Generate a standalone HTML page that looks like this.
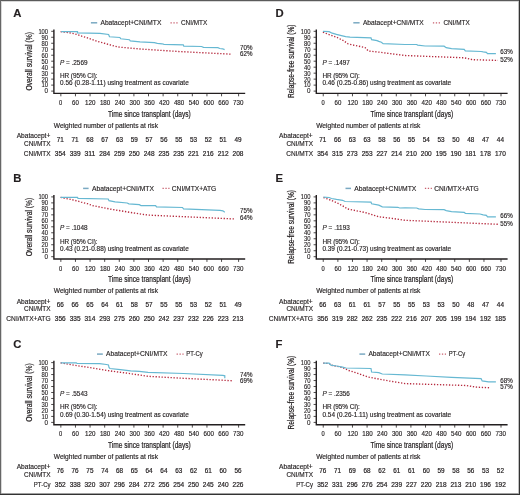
<!DOCTYPE html>
<html><head><meta charset="utf-8"><style>
html,body{margin:0;padding:0;background:#fff;width:520px;height:495px;overflow:hidden}
svg{display:block;will-change:transform}
text{font-family:"Liberation Sans", sans-serif;fill:#231f20;stroke:#231f20;stroke-width:0.15px}
</style></head><body>
<svg width="520" height="495" viewBox="0 0 520 495">
<rect x="0" y="0" width="520" height="495" fill="#fff"/>
<g transform="translate(0,0)">
<text x="13.20" y="16.65" font-size="11.3" font-weight="bold" fill="#000" stroke-width="0.35" stroke="#000">A</text>
<line x1="90.9" y1="22.8" x2="97.2" y2="22.8" stroke="#7aa9c2" stroke-width="1.5"/>
<text x="100.50" y="25.18" font-size="7.2" textLength="60.80" lengthAdjust="spacingAndGlyphs">Abatacept+CNI/MTX</text>
<line x1="170.5" y1="22.8" x2="177.6" y2="22.8" stroke="#b62a3e" stroke-width="1.3" stroke-dasharray="1.3,1.6" opacity="0.75"/>
<text x="181.00" y="25.18" font-size="7.2" textLength="26.30" lengthAdjust="spacingAndGlyphs">CNI/MTX</text>
<text transform="translate(31.94,61.3) rotate(-90)" x="0" y="0" font-size="8.2" text-anchor="middle" textLength="58.5" lengthAdjust="spacingAndGlyphs" style="stroke-width:0.22px">Overall survival (%)</text>
<line x1="51.2" y1="31.30" x2="53.9" y2="31.30" stroke="#231f20" stroke-width="0.8"/>
<text x="48.10" y="33.66" font-size="6.6" text-anchor="end" textLength="9.70" lengthAdjust="spacingAndGlyphs" style="stroke-width:0.12px">100</text>
<line x1="51.2" y1="37.28" x2="53.9" y2="37.28" stroke="#231f20" stroke-width="0.8"/>
<text x="48.10" y="39.64" font-size="6.6" text-anchor="end" textLength="6.60" lengthAdjust="spacingAndGlyphs" style="stroke-width:0.12px">90</text>
<line x1="51.2" y1="43.26" x2="53.9" y2="43.26" stroke="#231f20" stroke-width="0.8"/>
<text x="48.10" y="45.62" font-size="6.6" text-anchor="end" textLength="6.60" lengthAdjust="spacingAndGlyphs" style="stroke-width:0.12px">80</text>
<line x1="51.2" y1="49.24" x2="53.9" y2="49.24" stroke="#231f20" stroke-width="0.8"/>
<text x="48.10" y="51.60" font-size="6.6" text-anchor="end" textLength="6.60" lengthAdjust="spacingAndGlyphs" style="stroke-width:0.12px">70</text>
<line x1="51.2" y1="55.22" x2="53.9" y2="55.22" stroke="#231f20" stroke-width="0.8"/>
<text x="48.10" y="57.58" font-size="6.6" text-anchor="end" textLength="6.60" lengthAdjust="spacingAndGlyphs" style="stroke-width:0.12px">60</text>
<line x1="51.2" y1="61.20" x2="53.9" y2="61.20" stroke="#231f20" stroke-width="0.8"/>
<text x="48.10" y="63.56" font-size="6.6" text-anchor="end" textLength="6.60" lengthAdjust="spacingAndGlyphs" style="stroke-width:0.12px">50</text>
<line x1="51.2" y1="67.18" x2="53.9" y2="67.18" stroke="#231f20" stroke-width="0.8"/>
<text x="48.10" y="69.54" font-size="6.6" text-anchor="end" textLength="6.60" lengthAdjust="spacingAndGlyphs" style="stroke-width:0.12px">40</text>
<line x1="51.2" y1="73.16" x2="53.9" y2="73.16" stroke="#231f20" stroke-width="0.8"/>
<text x="48.10" y="75.52" font-size="6.6" text-anchor="end" textLength="6.60" lengthAdjust="spacingAndGlyphs" style="stroke-width:0.12px">30</text>
<line x1="51.2" y1="79.14" x2="53.9" y2="79.14" stroke="#231f20" stroke-width="0.8"/>
<text x="48.10" y="81.50" font-size="6.6" text-anchor="end" textLength="6.60" lengthAdjust="spacingAndGlyphs" style="stroke-width:0.12px">20</text>
<line x1="51.2" y1="85.12" x2="53.9" y2="85.12" stroke="#231f20" stroke-width="0.8"/>
<text x="48.10" y="87.48" font-size="6.6" text-anchor="end" textLength="6.60" lengthAdjust="spacingAndGlyphs" style="stroke-width:0.12px">10</text>
<line x1="51.2" y1="91.10" x2="53.9" y2="91.10" stroke="#231f20" stroke-width="0.8"/>
<text x="48.10" y="93.46" font-size="6.6" text-anchor="end" textLength="3.50" lengthAdjust="spacingAndGlyphs" style="stroke-width:0.12px">0</text>
<path d="M53.9,29.4 V93.4 H245.2" fill="none" stroke="#231f20" stroke-width="1.4"/>
<line x1="60.85" y1="93.4" x2="60.85" y2="96.30000000000001" stroke="#231f20" stroke-width="0.8"/>
<text x="60.70" y="104.96" font-size="6.3" text-anchor="middle" textLength="3.20" lengthAdjust="spacingAndGlyphs">0</text>
<line x1="75.46" y1="93.4" x2="75.46" y2="96.30000000000001" stroke="#231f20" stroke-width="0.8"/>
<text x="75.50" y="104.96" font-size="6.3" text-anchor="middle" textLength="6.80" lengthAdjust="spacingAndGlyphs">60</text>
<line x1="90.07" y1="93.4" x2="90.07" y2="96.30000000000001" stroke="#231f20" stroke-width="0.8"/>
<text x="90.30" y="104.96" font-size="6.3" text-anchor="middle" textLength="10.40" lengthAdjust="spacingAndGlyphs">120</text>
<line x1="104.68" y1="93.4" x2="104.68" y2="96.30000000000001" stroke="#231f20" stroke-width="0.8"/>
<text x="105.10" y="104.96" font-size="6.3" text-anchor="middle" textLength="10.40" lengthAdjust="spacingAndGlyphs">180</text>
<line x1="119.29" y1="93.4" x2="119.29" y2="96.30000000000001" stroke="#231f20" stroke-width="0.8"/>
<text x="119.90" y="104.96" font-size="6.3" text-anchor="middle" textLength="10.40" lengthAdjust="spacingAndGlyphs">240</text>
<line x1="133.90" y1="93.4" x2="133.90" y2="96.30000000000001" stroke="#231f20" stroke-width="0.8"/>
<text x="134.70" y="104.96" font-size="6.3" text-anchor="middle" textLength="10.40" lengthAdjust="spacingAndGlyphs">300</text>
<line x1="148.51" y1="93.4" x2="148.51" y2="96.30000000000001" stroke="#231f20" stroke-width="0.8"/>
<text x="149.50" y="104.96" font-size="6.3" text-anchor="middle" textLength="10.40" lengthAdjust="spacingAndGlyphs">360</text>
<line x1="163.12" y1="93.4" x2="163.12" y2="96.30000000000001" stroke="#231f20" stroke-width="0.8"/>
<text x="164.30" y="104.96" font-size="6.3" text-anchor="middle" textLength="10.40" lengthAdjust="spacingAndGlyphs">420</text>
<line x1="177.73" y1="93.4" x2="177.73" y2="96.30000000000001" stroke="#231f20" stroke-width="0.8"/>
<text x="179.10" y="104.96" font-size="6.3" text-anchor="middle" textLength="10.40" lengthAdjust="spacingAndGlyphs">480</text>
<line x1="192.34" y1="93.4" x2="192.34" y2="96.30000000000001" stroke="#231f20" stroke-width="0.8"/>
<text x="193.90" y="104.96" font-size="6.3" text-anchor="middle" textLength="10.40" lengthAdjust="spacingAndGlyphs">540</text>
<line x1="206.95" y1="93.4" x2="206.95" y2="96.30000000000001" stroke="#231f20" stroke-width="0.8"/>
<text x="208.70" y="104.96" font-size="6.3" text-anchor="middle" textLength="10.40" lengthAdjust="spacingAndGlyphs">600</text>
<line x1="221.56" y1="93.4" x2="221.56" y2="96.30000000000001" stroke="#231f20" stroke-width="0.8"/>
<text x="223.50" y="104.96" font-size="6.3" text-anchor="middle" textLength="10.40" lengthAdjust="spacingAndGlyphs">660</text>
<line x1="238.60" y1="93.4" x2="238.60" y2="96.30000000000001" stroke="#231f20" stroke-width="0.8"/>
<text x="238.30" y="104.96" font-size="6.3" text-anchor="middle" textLength="10.40" lengthAdjust="spacingAndGlyphs">730</text>
<text x="149.40" y="116.79" font-size="8.9" text-anchor="middle" textLength="82.80" lengthAdjust="spacingAndGlyphs" style="stroke-width:0.22px">Time since transplant (days)</text>
<text x="60" y="64.72" font-size="6.4" textLength="27.5" lengthAdjust="spacing"><tspan font-style="italic">P</tspan> = .2569</text>
<text x="60.00" y="78.09" font-size="6.4" textLength="37.50" lengthAdjust="spacing">HR (95% CI):</text>
<text x="60.00" y="85.49" font-size="6.4" textLength="128.70" lengthAdjust="spacing">0.56 (0.28-1.11) using treatment as covariate</text>
<text x="240.00" y="50.16" font-size="6.6" textLength="12.40" lengthAdjust="spacingAndGlyphs">70%</text>
<text x="240.00" y="56.46" font-size="6.6" textLength="12.40" lengthAdjust="spacingAndGlyphs">62%</text>
<text x="53.80" y="127.66" font-size="6.6" textLength="104.20" lengthAdjust="spacingAndGlyphs">Weighted number of patients at risk</text>
<text x="50.30" y="137.96" font-size="6.6" text-anchor="end" textLength="33.60" lengthAdjust="spacingAndGlyphs">Abatacept+</text>
<text x="50.60" y="145.56" font-size="6.6" text-anchor="end" textLength="26.60" lengthAdjust="spacingAndGlyphs">CNI/MTX</text>
<text x="50.60" y="155.66" font-size="6.6" text-anchor="end" textLength="26.80" lengthAdjust="spacingAndGlyphs">CNI/MTX</text>
<text x="60.30" y="141.86" font-size="6.6" text-anchor="middle" textLength="7.10" lengthAdjust="spacingAndGlyphs" style="stroke-width:0.2px">71</text>
<text x="75.10" y="141.86" font-size="6.6" text-anchor="middle" textLength="7.10" lengthAdjust="spacingAndGlyphs" style="stroke-width:0.2px">71</text>
<text x="89.90" y="141.86" font-size="6.6" text-anchor="middle" textLength="7.10" lengthAdjust="spacingAndGlyphs" style="stroke-width:0.2px">68</text>
<text x="104.70" y="141.86" font-size="6.6" text-anchor="middle" textLength="7.10" lengthAdjust="spacingAndGlyphs" style="stroke-width:0.2px">67</text>
<text x="119.50" y="141.86" font-size="6.6" text-anchor="middle" textLength="7.10" lengthAdjust="spacingAndGlyphs" style="stroke-width:0.2px">63</text>
<text x="134.30" y="141.86" font-size="6.6" text-anchor="middle" textLength="7.10" lengthAdjust="spacingAndGlyphs" style="stroke-width:0.2px">59</text>
<text x="149.10" y="141.86" font-size="6.6" text-anchor="middle" textLength="7.10" lengthAdjust="spacingAndGlyphs" style="stroke-width:0.2px">57</text>
<text x="163.90" y="141.86" font-size="6.6" text-anchor="middle" textLength="7.10" lengthAdjust="spacingAndGlyphs" style="stroke-width:0.2px">56</text>
<text x="178.70" y="141.86" font-size="6.6" text-anchor="middle" textLength="7.10" lengthAdjust="spacingAndGlyphs" style="stroke-width:0.2px">55</text>
<text x="193.50" y="141.86" font-size="6.6" text-anchor="middle" textLength="7.10" lengthAdjust="spacingAndGlyphs" style="stroke-width:0.2px">53</text>
<text x="208.30" y="141.86" font-size="6.6" text-anchor="middle" textLength="7.10" lengthAdjust="spacingAndGlyphs" style="stroke-width:0.2px">52</text>
<text x="223.10" y="141.86" font-size="6.6" text-anchor="middle" textLength="7.10" lengthAdjust="spacingAndGlyphs" style="stroke-width:0.2px">51</text>
<text x="238.00" y="141.86" font-size="6.6" text-anchor="middle" textLength="7.10" lengthAdjust="spacingAndGlyphs" style="stroke-width:0.2px">49</text>
<text x="60.30" y="155.66" font-size="6.6" text-anchor="middle" textLength="10.90" lengthAdjust="spacingAndGlyphs" style="stroke-width:0.2px">354</text>
<text x="75.10" y="155.66" font-size="6.6" text-anchor="middle" textLength="10.90" lengthAdjust="spacingAndGlyphs" style="stroke-width:0.2px">339</text>
<text x="89.90" y="155.66" font-size="6.6" text-anchor="middle" textLength="10.90" lengthAdjust="spacingAndGlyphs" style="stroke-width:0.2px">311</text>
<text x="104.70" y="155.66" font-size="6.6" text-anchor="middle" textLength="10.90" lengthAdjust="spacingAndGlyphs" style="stroke-width:0.2px">284</text>
<text x="119.50" y="155.66" font-size="6.6" text-anchor="middle" textLength="10.90" lengthAdjust="spacingAndGlyphs" style="stroke-width:0.2px">259</text>
<text x="134.30" y="155.66" font-size="6.6" text-anchor="middle" textLength="10.90" lengthAdjust="spacingAndGlyphs" style="stroke-width:0.2px">250</text>
<text x="149.10" y="155.66" font-size="6.6" text-anchor="middle" textLength="10.90" lengthAdjust="spacingAndGlyphs" style="stroke-width:0.2px">248</text>
<text x="163.90" y="155.66" font-size="6.6" text-anchor="middle" textLength="10.90" lengthAdjust="spacingAndGlyphs" style="stroke-width:0.2px">235</text>
<text x="178.70" y="155.66" font-size="6.6" text-anchor="middle" textLength="10.90" lengthAdjust="spacingAndGlyphs" style="stroke-width:0.2px">235</text>
<text x="193.50" y="155.66" font-size="6.6" text-anchor="middle" textLength="10.90" lengthAdjust="spacingAndGlyphs" style="stroke-width:0.2px">221</text>
<text x="208.30" y="155.66" font-size="6.6" text-anchor="middle" textLength="10.90" lengthAdjust="spacingAndGlyphs" style="stroke-width:0.2px">216</text>
<text x="223.10" y="155.66" font-size="6.6" text-anchor="middle" textLength="10.90" lengthAdjust="spacingAndGlyphs" style="stroke-width:0.2px">212</text>
<text x="238.00" y="155.66" font-size="6.6" text-anchor="middle" textLength="10.90" lengthAdjust="spacingAndGlyphs" style="stroke-width:0.2px">208</text>
</g>
<polyline points="60.6,31.6 64.6,32.2 68.3,32.5 71.4,33.2 74.5,33.8 77.5,34.7 81.8,36.2 86.2,37.5 97.0,41.2 107.0,44.0 118.0,47.0 140.0,49.0 178.5,51.5 231.3,54.2" fill="none" stroke="#b62a3e" stroke-width="1.35" stroke-dasharray="1.3,1.7"/>
<polyline points="61.1,31.6 77.5,31.6 77.5,32.8 100.0,33.3 108.6,34.5 109.5,36.8 119.9,37.5 120.7,38.8 129.4,39.7 130.3,40.9 140.0,41.9 154.4,42.7 157.3,43.3 162.1,43.8 164.0,44.4 183.3,44.8 183.8,46.2 201.5,46.5 203.5,47.3 217.9,47.7 219.8,48.5 222.7,48.8 224.6,49.6" fill="none" stroke="#66b8d2" stroke-width="1.2"/>
<g transform="translate(0,165.6)">
<text x="13.20" y="16.65" font-size="11.3" font-weight="bold" fill="#000" stroke-width="0.35" stroke="#000">B</text>
<line x1="83.1" y1="22.8" x2="88.6" y2="22.8" stroke="#7aa9c2" stroke-width="1.5"/>
<text x="91.90" y="25.18" font-size="7.2" textLength="62.00" lengthAdjust="spacingAndGlyphs">Abatacept+CNI/MTX</text>
<line x1="162.5" y1="22.8" x2="169.5" y2="22.8" stroke="#b62a3e" stroke-width="1.3" stroke-dasharray="1.3,1.6" opacity="0.75"/>
<text x="171.80" y="25.18" font-size="7.2" textLength="44.50" lengthAdjust="spacingAndGlyphs">CNI/MTX+ATG</text>
<text transform="translate(31.94,61.3) rotate(-90)" x="0" y="0" font-size="8.2" text-anchor="middle" textLength="58.5" lengthAdjust="spacingAndGlyphs" style="stroke-width:0.22px">Overall survival (%)</text>
<line x1="51.2" y1="31.30" x2="53.9" y2="31.30" stroke="#231f20" stroke-width="0.8"/>
<text x="48.10" y="33.66" font-size="6.6" text-anchor="end" textLength="9.70" lengthAdjust="spacingAndGlyphs" style="stroke-width:0.12px">100</text>
<line x1="51.2" y1="37.28" x2="53.9" y2="37.28" stroke="#231f20" stroke-width="0.8"/>
<text x="48.10" y="39.64" font-size="6.6" text-anchor="end" textLength="6.60" lengthAdjust="spacingAndGlyphs" style="stroke-width:0.12px">90</text>
<line x1="51.2" y1="43.26" x2="53.9" y2="43.26" stroke="#231f20" stroke-width="0.8"/>
<text x="48.10" y="45.62" font-size="6.6" text-anchor="end" textLength="6.60" lengthAdjust="spacingAndGlyphs" style="stroke-width:0.12px">80</text>
<line x1="51.2" y1="49.24" x2="53.9" y2="49.24" stroke="#231f20" stroke-width="0.8"/>
<text x="48.10" y="51.60" font-size="6.6" text-anchor="end" textLength="6.60" lengthAdjust="spacingAndGlyphs" style="stroke-width:0.12px">70</text>
<line x1="51.2" y1="55.22" x2="53.9" y2="55.22" stroke="#231f20" stroke-width="0.8"/>
<text x="48.10" y="57.58" font-size="6.6" text-anchor="end" textLength="6.60" lengthAdjust="spacingAndGlyphs" style="stroke-width:0.12px">60</text>
<line x1="51.2" y1="61.20" x2="53.9" y2="61.20" stroke="#231f20" stroke-width="0.8"/>
<text x="48.10" y="63.56" font-size="6.6" text-anchor="end" textLength="6.60" lengthAdjust="spacingAndGlyphs" style="stroke-width:0.12px">50</text>
<line x1="51.2" y1="67.18" x2="53.9" y2="67.18" stroke="#231f20" stroke-width="0.8"/>
<text x="48.10" y="69.54" font-size="6.6" text-anchor="end" textLength="6.60" lengthAdjust="spacingAndGlyphs" style="stroke-width:0.12px">40</text>
<line x1="51.2" y1="73.16" x2="53.9" y2="73.16" stroke="#231f20" stroke-width="0.8"/>
<text x="48.10" y="75.52" font-size="6.6" text-anchor="end" textLength="6.60" lengthAdjust="spacingAndGlyphs" style="stroke-width:0.12px">30</text>
<line x1="51.2" y1="79.14" x2="53.9" y2="79.14" stroke="#231f20" stroke-width="0.8"/>
<text x="48.10" y="81.50" font-size="6.6" text-anchor="end" textLength="6.60" lengthAdjust="spacingAndGlyphs" style="stroke-width:0.12px">20</text>
<line x1="51.2" y1="85.12" x2="53.9" y2="85.12" stroke="#231f20" stroke-width="0.8"/>
<text x="48.10" y="87.48" font-size="6.6" text-anchor="end" textLength="6.60" lengthAdjust="spacingAndGlyphs" style="stroke-width:0.12px">10</text>
<line x1="51.2" y1="91.10" x2="53.9" y2="91.10" stroke="#231f20" stroke-width="0.8"/>
<text x="48.10" y="93.46" font-size="6.6" text-anchor="end" textLength="3.50" lengthAdjust="spacingAndGlyphs" style="stroke-width:0.12px">0</text>
<path d="M53.9,29.4 V93.4 H245.2" fill="none" stroke="#231f20" stroke-width="1.4"/>
<line x1="60.85" y1="93.4" x2="60.85" y2="96.30000000000001" stroke="#231f20" stroke-width="0.8"/>
<text x="60.70" y="104.96" font-size="6.3" text-anchor="middle" textLength="3.20" lengthAdjust="spacingAndGlyphs">0</text>
<line x1="75.46" y1="93.4" x2="75.46" y2="96.30000000000001" stroke="#231f20" stroke-width="0.8"/>
<text x="75.50" y="104.96" font-size="6.3" text-anchor="middle" textLength="6.80" lengthAdjust="spacingAndGlyphs">60</text>
<line x1="90.07" y1="93.4" x2="90.07" y2="96.30000000000001" stroke="#231f20" stroke-width="0.8"/>
<text x="90.30" y="104.96" font-size="6.3" text-anchor="middle" textLength="10.40" lengthAdjust="spacingAndGlyphs">120</text>
<line x1="104.68" y1="93.4" x2="104.68" y2="96.30000000000001" stroke="#231f20" stroke-width="0.8"/>
<text x="105.10" y="104.96" font-size="6.3" text-anchor="middle" textLength="10.40" lengthAdjust="spacingAndGlyphs">180</text>
<line x1="119.29" y1="93.4" x2="119.29" y2="96.30000000000001" stroke="#231f20" stroke-width="0.8"/>
<text x="119.90" y="104.96" font-size="6.3" text-anchor="middle" textLength="10.40" lengthAdjust="spacingAndGlyphs">240</text>
<line x1="133.90" y1="93.4" x2="133.90" y2="96.30000000000001" stroke="#231f20" stroke-width="0.8"/>
<text x="134.70" y="104.96" font-size="6.3" text-anchor="middle" textLength="10.40" lengthAdjust="spacingAndGlyphs">300</text>
<line x1="148.51" y1="93.4" x2="148.51" y2="96.30000000000001" stroke="#231f20" stroke-width="0.8"/>
<text x="149.50" y="104.96" font-size="6.3" text-anchor="middle" textLength="10.40" lengthAdjust="spacingAndGlyphs">360</text>
<line x1="163.12" y1="93.4" x2="163.12" y2="96.30000000000001" stroke="#231f20" stroke-width="0.8"/>
<text x="164.30" y="104.96" font-size="6.3" text-anchor="middle" textLength="10.40" lengthAdjust="spacingAndGlyphs">420</text>
<line x1="177.73" y1="93.4" x2="177.73" y2="96.30000000000001" stroke="#231f20" stroke-width="0.8"/>
<text x="179.10" y="104.96" font-size="6.3" text-anchor="middle" textLength="10.40" lengthAdjust="spacingAndGlyphs">480</text>
<line x1="192.34" y1="93.4" x2="192.34" y2="96.30000000000001" stroke="#231f20" stroke-width="0.8"/>
<text x="193.90" y="104.96" font-size="6.3" text-anchor="middle" textLength="10.40" lengthAdjust="spacingAndGlyphs">540</text>
<line x1="206.95" y1="93.4" x2="206.95" y2="96.30000000000001" stroke="#231f20" stroke-width="0.8"/>
<text x="208.70" y="104.96" font-size="6.3" text-anchor="middle" textLength="10.40" lengthAdjust="spacingAndGlyphs">600</text>
<line x1="221.56" y1="93.4" x2="221.56" y2="96.30000000000001" stroke="#231f20" stroke-width="0.8"/>
<text x="223.50" y="104.96" font-size="6.3" text-anchor="middle" textLength="10.40" lengthAdjust="spacingAndGlyphs">660</text>
<line x1="238.60" y1="93.4" x2="238.60" y2="96.30000000000001" stroke="#231f20" stroke-width="0.8"/>
<text x="238.30" y="104.96" font-size="6.3" text-anchor="middle" textLength="10.40" lengthAdjust="spacingAndGlyphs">730</text>
<text x="149.40" y="116.79" font-size="8.9" text-anchor="middle" textLength="82.80" lengthAdjust="spacingAndGlyphs" style="stroke-width:0.22px">Time since transplant (days)</text>
<text x="60" y="64.72" font-size="6.4" textLength="27.5" lengthAdjust="spacing"><tspan font-style="italic">P</tspan> = .1048</text>
<text x="60.00" y="78.09" font-size="6.4" textLength="37.50" lengthAdjust="spacing">HR (95% CI):</text>
<text x="60.00" y="85.49" font-size="6.4" textLength="128.70" lengthAdjust="spacing">0.43 (0.21-0.88) using treatment as covariate</text>
<text x="240.00" y="47.86" font-size="6.6" textLength="12.40" lengthAdjust="spacingAndGlyphs">75%</text>
<text x="240.00" y="54.26" font-size="6.6" textLength="12.40" lengthAdjust="spacingAndGlyphs">64%</text>
<text x="53.80" y="127.66" font-size="6.6" textLength="104.20" lengthAdjust="spacingAndGlyphs">Weighted number of patients at risk</text>
<text x="50.30" y="137.96" font-size="6.6" text-anchor="end" textLength="33.60" lengthAdjust="spacingAndGlyphs">Abatacept+</text>
<text x="50.60" y="145.56" font-size="6.6" text-anchor="end" textLength="26.60" lengthAdjust="spacingAndGlyphs">CNI/MTX</text>
<text x="50.60" y="155.66" font-size="6.6" text-anchor="end" textLength="44.30" lengthAdjust="spacingAndGlyphs">CNI/MTX+ATG</text>
<text x="60.30" y="141.86" font-size="6.6" text-anchor="middle" textLength="7.10" lengthAdjust="spacingAndGlyphs" style="stroke-width:0.2px">66</text>
<text x="75.10" y="141.86" font-size="6.6" text-anchor="middle" textLength="7.10" lengthAdjust="spacingAndGlyphs" style="stroke-width:0.2px">66</text>
<text x="89.90" y="141.86" font-size="6.6" text-anchor="middle" textLength="7.10" lengthAdjust="spacingAndGlyphs" style="stroke-width:0.2px">65</text>
<text x="104.70" y="141.86" font-size="6.6" text-anchor="middle" textLength="7.10" lengthAdjust="spacingAndGlyphs" style="stroke-width:0.2px">64</text>
<text x="119.50" y="141.86" font-size="6.6" text-anchor="middle" textLength="7.10" lengthAdjust="spacingAndGlyphs" style="stroke-width:0.2px">61</text>
<text x="134.30" y="141.86" font-size="6.6" text-anchor="middle" textLength="7.10" lengthAdjust="spacingAndGlyphs" style="stroke-width:0.2px">58</text>
<text x="149.10" y="141.86" font-size="6.6" text-anchor="middle" textLength="7.10" lengthAdjust="spacingAndGlyphs" style="stroke-width:0.2px">57</text>
<text x="163.90" y="141.86" font-size="6.6" text-anchor="middle" textLength="7.10" lengthAdjust="spacingAndGlyphs" style="stroke-width:0.2px">55</text>
<text x="178.70" y="141.86" font-size="6.6" text-anchor="middle" textLength="7.10" lengthAdjust="spacingAndGlyphs" style="stroke-width:0.2px">55</text>
<text x="193.50" y="141.86" font-size="6.6" text-anchor="middle" textLength="7.10" lengthAdjust="spacingAndGlyphs" style="stroke-width:0.2px">53</text>
<text x="208.30" y="141.86" font-size="6.6" text-anchor="middle" textLength="7.10" lengthAdjust="spacingAndGlyphs" style="stroke-width:0.2px">52</text>
<text x="223.10" y="141.86" font-size="6.6" text-anchor="middle" textLength="7.10" lengthAdjust="spacingAndGlyphs" style="stroke-width:0.2px">51</text>
<text x="238.00" y="141.86" font-size="6.6" text-anchor="middle" textLength="7.10" lengthAdjust="spacingAndGlyphs" style="stroke-width:0.2px">49</text>
<text x="60.30" y="155.66" font-size="6.6" text-anchor="middle" textLength="10.90" lengthAdjust="spacingAndGlyphs" style="stroke-width:0.2px">356</text>
<text x="75.10" y="155.66" font-size="6.6" text-anchor="middle" textLength="10.90" lengthAdjust="spacingAndGlyphs" style="stroke-width:0.2px">335</text>
<text x="89.90" y="155.66" font-size="6.6" text-anchor="middle" textLength="10.90" lengthAdjust="spacingAndGlyphs" style="stroke-width:0.2px">314</text>
<text x="104.70" y="155.66" font-size="6.6" text-anchor="middle" textLength="10.90" lengthAdjust="spacingAndGlyphs" style="stroke-width:0.2px">293</text>
<text x="119.50" y="155.66" font-size="6.6" text-anchor="middle" textLength="10.90" lengthAdjust="spacingAndGlyphs" style="stroke-width:0.2px">275</text>
<text x="134.30" y="155.66" font-size="6.6" text-anchor="middle" textLength="10.90" lengthAdjust="spacingAndGlyphs" style="stroke-width:0.2px">260</text>
<text x="149.10" y="155.66" font-size="6.6" text-anchor="middle" textLength="10.90" lengthAdjust="spacingAndGlyphs" style="stroke-width:0.2px">250</text>
<text x="163.90" y="155.66" font-size="6.6" text-anchor="middle" textLength="10.90" lengthAdjust="spacingAndGlyphs" style="stroke-width:0.2px">242</text>
<text x="178.70" y="155.66" font-size="6.6" text-anchor="middle" textLength="10.90" lengthAdjust="spacingAndGlyphs" style="stroke-width:0.2px">237</text>
<text x="193.50" y="155.66" font-size="6.6" text-anchor="middle" textLength="10.90" lengthAdjust="spacingAndGlyphs" style="stroke-width:0.2px">232</text>
<text x="208.30" y="155.66" font-size="6.6" text-anchor="middle" textLength="10.90" lengthAdjust="spacingAndGlyphs" style="stroke-width:0.2px">226</text>
<text x="223.10" y="155.66" font-size="6.6" text-anchor="middle" textLength="10.90" lengthAdjust="spacingAndGlyphs" style="stroke-width:0.2px">223</text>
<text x="238.00" y="155.66" font-size="6.6" text-anchor="middle" textLength="10.90" lengthAdjust="spacingAndGlyphs" style="stroke-width:0.2px">213</text>
</g>
<polyline points="60.6,197.4 64.3,198.2 67.7,198.8 70.8,199.4 74.5,200.3 78.2,201.2 81.2,202.2 84.9,203.1 87.4,203.7 92.6,205.6 109.9,209.0 130.7,212.5 148.0,215.1 235.4,219.0" fill="none" stroke="#b62a3e" stroke-width="1.35" stroke-dasharray="1.3,1.7"/>
<polyline points="60.6,197.4 77.5,197.4 78.0,198.3 108.2,199.0 109.0,200.7 115.1,201.8 127.2,203.0 128.9,203.8 139.3,204.7 141.0,205.6 155.6,205.6 156.5,206.9 182.5,207.5 183.5,208.8 220.0,210.4 222.9,210.8 224.8,212.3" fill="none" stroke="#66b8d2" stroke-width="1.2"/>
<g transform="translate(0,331.3)">
<text x="13.20" y="16.65" font-size="11.3" font-weight="bold" fill="#000" stroke-width="0.35" stroke="#000">C</text>
<line x1="97.0" y1="22.8" x2="102.8" y2="22.8" stroke="#7aa9c2" stroke-width="1.5"/>
<text x="106.00" y="25.18" font-size="7.2" textLength="61.50" lengthAdjust="spacingAndGlyphs">Abatacept+CNI/MTX</text>
<line x1="176.6" y1="22.8" x2="183.6" y2="22.8" stroke="#b62a3e" stroke-width="1.3" stroke-dasharray="1.3,1.6" opacity="0.75"/>
<text x="186.30" y="25.18" font-size="7.2" textLength="16.40" lengthAdjust="spacingAndGlyphs">PT-Cy</text>
<text transform="translate(31.94,61.3) rotate(-90)" x="0" y="0" font-size="8.2" text-anchor="middle" textLength="58.5" lengthAdjust="spacingAndGlyphs" style="stroke-width:0.22px">Overall survival (%)</text>
<line x1="51.2" y1="31.30" x2="53.9" y2="31.30" stroke="#231f20" stroke-width="0.8"/>
<text x="48.10" y="33.66" font-size="6.6" text-anchor="end" textLength="9.70" lengthAdjust="spacingAndGlyphs" style="stroke-width:0.12px">100</text>
<line x1="51.2" y1="37.28" x2="53.9" y2="37.28" stroke="#231f20" stroke-width="0.8"/>
<text x="48.10" y="39.64" font-size="6.6" text-anchor="end" textLength="6.60" lengthAdjust="spacingAndGlyphs" style="stroke-width:0.12px">90</text>
<line x1="51.2" y1="43.26" x2="53.9" y2="43.26" stroke="#231f20" stroke-width="0.8"/>
<text x="48.10" y="45.62" font-size="6.6" text-anchor="end" textLength="6.60" lengthAdjust="spacingAndGlyphs" style="stroke-width:0.12px">80</text>
<line x1="51.2" y1="49.24" x2="53.9" y2="49.24" stroke="#231f20" stroke-width="0.8"/>
<text x="48.10" y="51.60" font-size="6.6" text-anchor="end" textLength="6.60" lengthAdjust="spacingAndGlyphs" style="stroke-width:0.12px">70</text>
<line x1="51.2" y1="55.22" x2="53.9" y2="55.22" stroke="#231f20" stroke-width="0.8"/>
<text x="48.10" y="57.58" font-size="6.6" text-anchor="end" textLength="6.60" lengthAdjust="spacingAndGlyphs" style="stroke-width:0.12px">60</text>
<line x1="51.2" y1="61.20" x2="53.9" y2="61.20" stroke="#231f20" stroke-width="0.8"/>
<text x="48.10" y="63.56" font-size="6.6" text-anchor="end" textLength="6.60" lengthAdjust="spacingAndGlyphs" style="stroke-width:0.12px">50</text>
<line x1="51.2" y1="67.18" x2="53.9" y2="67.18" stroke="#231f20" stroke-width="0.8"/>
<text x="48.10" y="69.54" font-size="6.6" text-anchor="end" textLength="6.60" lengthAdjust="spacingAndGlyphs" style="stroke-width:0.12px">40</text>
<line x1="51.2" y1="73.16" x2="53.9" y2="73.16" stroke="#231f20" stroke-width="0.8"/>
<text x="48.10" y="75.52" font-size="6.6" text-anchor="end" textLength="6.60" lengthAdjust="spacingAndGlyphs" style="stroke-width:0.12px">30</text>
<line x1="51.2" y1="79.14" x2="53.9" y2="79.14" stroke="#231f20" stroke-width="0.8"/>
<text x="48.10" y="81.50" font-size="6.6" text-anchor="end" textLength="6.60" lengthAdjust="spacingAndGlyphs" style="stroke-width:0.12px">20</text>
<line x1="51.2" y1="85.12" x2="53.9" y2="85.12" stroke="#231f20" stroke-width="0.8"/>
<text x="48.10" y="87.48" font-size="6.6" text-anchor="end" textLength="6.60" lengthAdjust="spacingAndGlyphs" style="stroke-width:0.12px">10</text>
<line x1="51.2" y1="91.10" x2="53.9" y2="91.10" stroke="#231f20" stroke-width="0.8"/>
<text x="48.10" y="93.46" font-size="6.6" text-anchor="end" textLength="3.50" lengthAdjust="spacingAndGlyphs" style="stroke-width:0.12px">0</text>
<path d="M53.9,29.4 V93.4 H245.2" fill="none" stroke="#231f20" stroke-width="1.4"/>
<line x1="60.85" y1="93.4" x2="60.85" y2="96.30000000000001" stroke="#231f20" stroke-width="0.8"/>
<text x="60.70" y="104.96" font-size="6.3" text-anchor="middle" textLength="3.20" lengthAdjust="spacingAndGlyphs">0</text>
<line x1="75.46" y1="93.4" x2="75.46" y2="96.30000000000001" stroke="#231f20" stroke-width="0.8"/>
<text x="75.50" y="104.96" font-size="6.3" text-anchor="middle" textLength="6.80" lengthAdjust="spacingAndGlyphs">60</text>
<line x1="90.07" y1="93.4" x2="90.07" y2="96.30000000000001" stroke="#231f20" stroke-width="0.8"/>
<text x="90.30" y="104.96" font-size="6.3" text-anchor="middle" textLength="10.40" lengthAdjust="spacingAndGlyphs">120</text>
<line x1="104.68" y1="93.4" x2="104.68" y2="96.30000000000001" stroke="#231f20" stroke-width="0.8"/>
<text x="105.10" y="104.96" font-size="6.3" text-anchor="middle" textLength="10.40" lengthAdjust="spacingAndGlyphs">180</text>
<line x1="119.29" y1="93.4" x2="119.29" y2="96.30000000000001" stroke="#231f20" stroke-width="0.8"/>
<text x="119.90" y="104.96" font-size="6.3" text-anchor="middle" textLength="10.40" lengthAdjust="spacingAndGlyphs">240</text>
<line x1="133.90" y1="93.4" x2="133.90" y2="96.30000000000001" stroke="#231f20" stroke-width="0.8"/>
<text x="134.70" y="104.96" font-size="6.3" text-anchor="middle" textLength="10.40" lengthAdjust="spacingAndGlyphs">300</text>
<line x1="148.51" y1="93.4" x2="148.51" y2="96.30000000000001" stroke="#231f20" stroke-width="0.8"/>
<text x="149.50" y="104.96" font-size="6.3" text-anchor="middle" textLength="10.40" lengthAdjust="spacingAndGlyphs">360</text>
<line x1="163.12" y1="93.4" x2="163.12" y2="96.30000000000001" stroke="#231f20" stroke-width="0.8"/>
<text x="164.30" y="104.96" font-size="6.3" text-anchor="middle" textLength="10.40" lengthAdjust="spacingAndGlyphs">420</text>
<line x1="177.73" y1="93.4" x2="177.73" y2="96.30000000000001" stroke="#231f20" stroke-width="0.8"/>
<text x="179.10" y="104.96" font-size="6.3" text-anchor="middle" textLength="10.40" lengthAdjust="spacingAndGlyphs">480</text>
<line x1="192.34" y1="93.4" x2="192.34" y2="96.30000000000001" stroke="#231f20" stroke-width="0.8"/>
<text x="193.90" y="104.96" font-size="6.3" text-anchor="middle" textLength="10.40" lengthAdjust="spacingAndGlyphs">540</text>
<line x1="206.95" y1="93.4" x2="206.95" y2="96.30000000000001" stroke="#231f20" stroke-width="0.8"/>
<text x="208.70" y="104.96" font-size="6.3" text-anchor="middle" textLength="10.40" lengthAdjust="spacingAndGlyphs">600</text>
<line x1="221.56" y1="93.4" x2="221.56" y2="96.30000000000001" stroke="#231f20" stroke-width="0.8"/>
<text x="223.50" y="104.96" font-size="6.3" text-anchor="middle" textLength="10.40" lengthAdjust="spacingAndGlyphs">660</text>
<line x1="238.60" y1="93.4" x2="238.60" y2="96.30000000000001" stroke="#231f20" stroke-width="0.8"/>
<text x="238.30" y="104.96" font-size="6.3" text-anchor="middle" textLength="10.40" lengthAdjust="spacingAndGlyphs">730</text>
<text x="149.40" y="116.79" font-size="8.9" text-anchor="middle" textLength="82.80" lengthAdjust="spacingAndGlyphs" style="stroke-width:0.22px">Time since transplant (days)</text>
<text x="60" y="64.72" font-size="6.4" textLength="27.5" lengthAdjust="spacing"><tspan font-style="italic">P</tspan> = .5543</text>
<text x="60.00" y="78.09" font-size="6.4" textLength="37.50" lengthAdjust="spacing">HR (95% CI):</text>
<text x="60.00" y="85.49" font-size="6.4" textLength="128.70" lengthAdjust="spacing">0.69 (0.30-1.54) using treatment as covariate</text>
<text x="240.00" y="45.56" font-size="6.6" textLength="12.40" lengthAdjust="spacingAndGlyphs">74%</text>
<text x="240.00" y="51.46" font-size="6.6" textLength="12.40" lengthAdjust="spacingAndGlyphs">69%</text>
<text x="53.80" y="127.66" font-size="6.6" textLength="104.20" lengthAdjust="spacingAndGlyphs">Weighted number of patients at risk</text>
<text x="50.30" y="137.96" font-size="6.6" text-anchor="end" textLength="33.60" lengthAdjust="spacingAndGlyphs">Abatacept+</text>
<text x="50.60" y="145.56" font-size="6.6" text-anchor="end" textLength="26.60" lengthAdjust="spacingAndGlyphs">CNI/MTX</text>
<text x="50.60" y="155.66" font-size="6.6" text-anchor="end" textLength="16.80" lengthAdjust="spacingAndGlyphs">PT-Cy</text>
<text x="60.30" y="141.86" font-size="6.6" text-anchor="middle" textLength="7.10" lengthAdjust="spacingAndGlyphs" style="stroke-width:0.2px">76</text>
<text x="75.10" y="141.86" font-size="6.6" text-anchor="middle" textLength="7.10" lengthAdjust="spacingAndGlyphs" style="stroke-width:0.2px">76</text>
<text x="89.90" y="141.86" font-size="6.6" text-anchor="middle" textLength="7.10" lengthAdjust="spacingAndGlyphs" style="stroke-width:0.2px">75</text>
<text x="104.70" y="141.86" font-size="6.6" text-anchor="middle" textLength="7.10" lengthAdjust="spacingAndGlyphs" style="stroke-width:0.2px">74</text>
<text x="119.50" y="141.86" font-size="6.6" text-anchor="middle" textLength="7.10" lengthAdjust="spacingAndGlyphs" style="stroke-width:0.2px">68</text>
<text x="134.30" y="141.86" font-size="6.6" text-anchor="middle" textLength="7.10" lengthAdjust="spacingAndGlyphs" style="stroke-width:0.2px">65</text>
<text x="149.10" y="141.86" font-size="6.6" text-anchor="middle" textLength="7.10" lengthAdjust="spacingAndGlyphs" style="stroke-width:0.2px">64</text>
<text x="163.90" y="141.86" font-size="6.6" text-anchor="middle" textLength="7.10" lengthAdjust="spacingAndGlyphs" style="stroke-width:0.2px">64</text>
<text x="178.70" y="141.86" font-size="6.6" text-anchor="middle" textLength="7.10" lengthAdjust="spacingAndGlyphs" style="stroke-width:0.2px">63</text>
<text x="193.50" y="141.86" font-size="6.6" text-anchor="middle" textLength="7.10" lengthAdjust="spacingAndGlyphs" style="stroke-width:0.2px">62</text>
<text x="208.30" y="141.86" font-size="6.6" text-anchor="middle" textLength="7.10" lengthAdjust="spacingAndGlyphs" style="stroke-width:0.2px">61</text>
<text x="223.10" y="141.86" font-size="6.6" text-anchor="middle" textLength="7.10" lengthAdjust="spacingAndGlyphs" style="stroke-width:0.2px">60</text>
<text x="238.00" y="141.86" font-size="6.6" text-anchor="middle" textLength="7.10" lengthAdjust="spacingAndGlyphs" style="stroke-width:0.2px">56</text>
<text x="60.30" y="155.66" font-size="6.6" text-anchor="middle" textLength="10.90" lengthAdjust="spacingAndGlyphs" style="stroke-width:0.2px">352</text>
<text x="75.10" y="155.66" font-size="6.6" text-anchor="middle" textLength="10.90" lengthAdjust="spacingAndGlyphs" style="stroke-width:0.2px">338</text>
<text x="89.90" y="155.66" font-size="6.6" text-anchor="middle" textLength="10.90" lengthAdjust="spacingAndGlyphs" style="stroke-width:0.2px">320</text>
<text x="104.70" y="155.66" font-size="6.6" text-anchor="middle" textLength="10.90" lengthAdjust="spacingAndGlyphs" style="stroke-width:0.2px">307</text>
<text x="119.50" y="155.66" font-size="6.6" text-anchor="middle" textLength="10.90" lengthAdjust="spacingAndGlyphs" style="stroke-width:0.2px">296</text>
<text x="134.30" y="155.66" font-size="6.6" text-anchor="middle" textLength="10.90" lengthAdjust="spacingAndGlyphs" style="stroke-width:0.2px">284</text>
<text x="149.10" y="155.66" font-size="6.6" text-anchor="middle" textLength="10.90" lengthAdjust="spacingAndGlyphs" style="stroke-width:0.2px">272</text>
<text x="163.90" y="155.66" font-size="6.6" text-anchor="middle" textLength="10.90" lengthAdjust="spacingAndGlyphs" style="stroke-width:0.2px">256</text>
<text x="178.70" y="155.66" font-size="6.6" text-anchor="middle" textLength="10.90" lengthAdjust="spacingAndGlyphs" style="stroke-width:0.2px">254</text>
<text x="193.50" y="155.66" font-size="6.6" text-anchor="middle" textLength="10.90" lengthAdjust="spacingAndGlyphs" style="stroke-width:0.2px">250</text>
<text x="208.30" y="155.66" font-size="6.6" text-anchor="middle" textLength="10.90" lengthAdjust="spacingAndGlyphs" style="stroke-width:0.2px">245</text>
<text x="223.10" y="155.66" font-size="6.6" text-anchor="middle" textLength="10.90" lengthAdjust="spacingAndGlyphs" style="stroke-width:0.2px">240</text>
<text x="238.00" y="155.66" font-size="6.6" text-anchor="middle" textLength="10.90" lengthAdjust="spacingAndGlyphs" style="stroke-width:0.2px">226</text>
</g>
<polyline points="60.6,362.8 75.3,365.4 92.6,368.0 109.9,370.9 127.2,373.2 148.0,376.3 183.5,378.3 221.9,380.2 232.5,380.8" fill="none" stroke="#b62a3e" stroke-width="1.35" stroke-dasharray="1.3,1.7"/>
<polyline points="60.6,362.8 76.2,362.8 77.0,363.3 99.5,363.7 106.4,364.5 108.5,365.0 109.0,367.5 109.9,368.5 120.3,369.7 130.7,370.9 139.3,371.4 148.0,372.3 183.5,373.5 222.9,375.4 224.8,375.8 224.8,378.3" fill="none" stroke="#66b8d2" stroke-width="1.2"/>
<g transform="translate(262.4,0)">
<text x="13.20" y="16.65" font-size="11.3" font-weight="bold" fill="#000" stroke-width="0.35" stroke="#000">D</text>
<line x1="90.9" y1="22.8" x2="97.2" y2="22.8" stroke="#7aa9c2" stroke-width="1.5"/>
<text x="100.50" y="25.18" font-size="7.2" textLength="60.80" lengthAdjust="spacingAndGlyphs">Abatacept+CNI/MTX</text>
<line x1="170.5" y1="22.8" x2="177.6" y2="22.8" stroke="#b62a3e" stroke-width="1.3" stroke-dasharray="1.3,1.6" opacity="0.75"/>
<text x="181.00" y="25.18" font-size="7.2" textLength="26.30" lengthAdjust="spacingAndGlyphs">CNI/MTX</text>
<text transform="translate(31.94,61.3) rotate(-90)" x="0" y="0" font-size="8.2" text-anchor="middle" textLength="73.6" lengthAdjust="spacingAndGlyphs" style="stroke-width:0.22px">Relapse-free survival (%)</text>
<line x1="51.2" y1="31.30" x2="53.9" y2="31.30" stroke="#231f20" stroke-width="0.8"/>
<text x="48.10" y="33.66" font-size="6.6" text-anchor="end" textLength="9.70" lengthAdjust="spacingAndGlyphs" style="stroke-width:0.12px">100</text>
<line x1="51.2" y1="37.28" x2="53.9" y2="37.28" stroke="#231f20" stroke-width="0.8"/>
<text x="48.10" y="39.64" font-size="6.6" text-anchor="end" textLength="6.60" lengthAdjust="spacingAndGlyphs" style="stroke-width:0.12px">90</text>
<line x1="51.2" y1="43.26" x2="53.9" y2="43.26" stroke="#231f20" stroke-width="0.8"/>
<text x="48.10" y="45.62" font-size="6.6" text-anchor="end" textLength="6.60" lengthAdjust="spacingAndGlyphs" style="stroke-width:0.12px">80</text>
<line x1="51.2" y1="49.24" x2="53.9" y2="49.24" stroke="#231f20" stroke-width="0.8"/>
<text x="48.10" y="51.60" font-size="6.6" text-anchor="end" textLength="6.60" lengthAdjust="spacingAndGlyphs" style="stroke-width:0.12px">70</text>
<line x1="51.2" y1="55.22" x2="53.9" y2="55.22" stroke="#231f20" stroke-width="0.8"/>
<text x="48.10" y="57.58" font-size="6.6" text-anchor="end" textLength="6.60" lengthAdjust="spacingAndGlyphs" style="stroke-width:0.12px">60</text>
<line x1="51.2" y1="61.20" x2="53.9" y2="61.20" stroke="#231f20" stroke-width="0.8"/>
<text x="48.10" y="63.56" font-size="6.6" text-anchor="end" textLength="6.60" lengthAdjust="spacingAndGlyphs" style="stroke-width:0.12px">50</text>
<line x1="51.2" y1="67.18" x2="53.9" y2="67.18" stroke="#231f20" stroke-width="0.8"/>
<text x="48.10" y="69.54" font-size="6.6" text-anchor="end" textLength="6.60" lengthAdjust="spacingAndGlyphs" style="stroke-width:0.12px">40</text>
<line x1="51.2" y1="73.16" x2="53.9" y2="73.16" stroke="#231f20" stroke-width="0.8"/>
<text x="48.10" y="75.52" font-size="6.6" text-anchor="end" textLength="6.60" lengthAdjust="spacingAndGlyphs" style="stroke-width:0.12px">30</text>
<line x1="51.2" y1="79.14" x2="53.9" y2="79.14" stroke="#231f20" stroke-width="0.8"/>
<text x="48.10" y="81.50" font-size="6.6" text-anchor="end" textLength="6.60" lengthAdjust="spacingAndGlyphs" style="stroke-width:0.12px">20</text>
<line x1="51.2" y1="85.12" x2="53.9" y2="85.12" stroke="#231f20" stroke-width="0.8"/>
<text x="48.10" y="87.48" font-size="6.6" text-anchor="end" textLength="6.60" lengthAdjust="spacingAndGlyphs" style="stroke-width:0.12px">10</text>
<line x1="51.2" y1="91.10" x2="53.9" y2="91.10" stroke="#231f20" stroke-width="0.8"/>
<text x="48.10" y="93.46" font-size="6.6" text-anchor="end" textLength="3.50" lengthAdjust="spacingAndGlyphs" style="stroke-width:0.12px">0</text>
<path d="M53.9,29.4 V93.4 H245.2" fill="none" stroke="#231f20" stroke-width="1.4"/>
<line x1="60.85" y1="93.4" x2="60.85" y2="96.30000000000001" stroke="#231f20" stroke-width="0.8"/>
<text x="60.70" y="104.96" font-size="6.3" text-anchor="middle" textLength="3.20" lengthAdjust="spacingAndGlyphs">0</text>
<line x1="75.46" y1="93.4" x2="75.46" y2="96.30000000000001" stroke="#231f20" stroke-width="0.8"/>
<text x="75.50" y="104.96" font-size="6.3" text-anchor="middle" textLength="6.80" lengthAdjust="spacingAndGlyphs">60</text>
<line x1="90.07" y1="93.4" x2="90.07" y2="96.30000000000001" stroke="#231f20" stroke-width="0.8"/>
<text x="90.30" y="104.96" font-size="6.3" text-anchor="middle" textLength="10.40" lengthAdjust="spacingAndGlyphs">120</text>
<line x1="104.68" y1="93.4" x2="104.68" y2="96.30000000000001" stroke="#231f20" stroke-width="0.8"/>
<text x="105.10" y="104.96" font-size="6.3" text-anchor="middle" textLength="10.40" lengthAdjust="spacingAndGlyphs">180</text>
<line x1="119.29" y1="93.4" x2="119.29" y2="96.30000000000001" stroke="#231f20" stroke-width="0.8"/>
<text x="119.90" y="104.96" font-size="6.3" text-anchor="middle" textLength="10.40" lengthAdjust="spacingAndGlyphs">240</text>
<line x1="133.90" y1="93.4" x2="133.90" y2="96.30000000000001" stroke="#231f20" stroke-width="0.8"/>
<text x="134.70" y="104.96" font-size="6.3" text-anchor="middle" textLength="10.40" lengthAdjust="spacingAndGlyphs">300</text>
<line x1="148.51" y1="93.4" x2="148.51" y2="96.30000000000001" stroke="#231f20" stroke-width="0.8"/>
<text x="149.50" y="104.96" font-size="6.3" text-anchor="middle" textLength="10.40" lengthAdjust="spacingAndGlyphs">360</text>
<line x1="163.12" y1="93.4" x2="163.12" y2="96.30000000000001" stroke="#231f20" stroke-width="0.8"/>
<text x="164.30" y="104.96" font-size="6.3" text-anchor="middle" textLength="10.40" lengthAdjust="spacingAndGlyphs">420</text>
<line x1="177.73" y1="93.4" x2="177.73" y2="96.30000000000001" stroke="#231f20" stroke-width="0.8"/>
<text x="179.10" y="104.96" font-size="6.3" text-anchor="middle" textLength="10.40" lengthAdjust="spacingAndGlyphs">480</text>
<line x1="192.34" y1="93.4" x2="192.34" y2="96.30000000000001" stroke="#231f20" stroke-width="0.8"/>
<text x="193.90" y="104.96" font-size="6.3" text-anchor="middle" textLength="10.40" lengthAdjust="spacingAndGlyphs">540</text>
<line x1="206.95" y1="93.4" x2="206.95" y2="96.30000000000001" stroke="#231f20" stroke-width="0.8"/>
<text x="208.70" y="104.96" font-size="6.3" text-anchor="middle" textLength="10.40" lengthAdjust="spacingAndGlyphs">600</text>
<line x1="221.56" y1="93.4" x2="221.56" y2="96.30000000000001" stroke="#231f20" stroke-width="0.8"/>
<text x="223.50" y="104.96" font-size="6.3" text-anchor="middle" textLength="10.40" lengthAdjust="spacingAndGlyphs">660</text>
<line x1="238.60" y1="93.4" x2="238.60" y2="96.30000000000001" stroke="#231f20" stroke-width="0.8"/>
<text x="238.30" y="104.96" font-size="6.3" text-anchor="middle" textLength="10.40" lengthAdjust="spacingAndGlyphs">730</text>
<text x="149.40" y="116.79" font-size="8.9" text-anchor="middle" textLength="82.80" lengthAdjust="spacingAndGlyphs" style="stroke-width:0.22px">Time since transplant (days)</text>
<text x="60" y="64.72" font-size="6.4" textLength="27.5" lengthAdjust="spacing"><tspan font-style="italic">P</tspan> = .1497</text>
<text x="60.00" y="78.09" font-size="6.4" textLength="37.50" lengthAdjust="spacing">HR (95% CI):</text>
<text x="60.00" y="85.49" font-size="6.4" textLength="128.70" lengthAdjust="spacing">0.46 (0.25-0.86) using treatment as covariate</text>
<text x="237.90" y="54.26" font-size="6.6" textLength="12.40" lengthAdjust="spacingAndGlyphs">63%</text>
<text x="237.90" y="61.66" font-size="6.6" textLength="12.40" lengthAdjust="spacingAndGlyphs">52%</text>
<text x="53.80" y="127.66" font-size="6.6" textLength="104.20" lengthAdjust="spacingAndGlyphs">Weighted number of patients at risk</text>
<text x="50.30" y="137.96" font-size="6.6" text-anchor="end" textLength="33.60" lengthAdjust="spacingAndGlyphs">Abatacept+</text>
<text x="50.60" y="145.56" font-size="6.6" text-anchor="end" textLength="26.60" lengthAdjust="spacingAndGlyphs">CNI/MTX</text>
<text x="50.60" y="155.66" font-size="6.6" text-anchor="end" textLength="26.80" lengthAdjust="spacingAndGlyphs">CNI/MTX</text>
<text x="60.30" y="141.86" font-size="6.6" text-anchor="middle" textLength="7.10" lengthAdjust="spacingAndGlyphs" style="stroke-width:0.2px">71</text>
<text x="75.10" y="141.86" font-size="6.6" text-anchor="middle" textLength="7.10" lengthAdjust="spacingAndGlyphs" style="stroke-width:0.2px">66</text>
<text x="89.90" y="141.86" font-size="6.6" text-anchor="middle" textLength="7.10" lengthAdjust="spacingAndGlyphs" style="stroke-width:0.2px">63</text>
<text x="104.70" y="141.86" font-size="6.6" text-anchor="middle" textLength="7.10" lengthAdjust="spacingAndGlyphs" style="stroke-width:0.2px">63</text>
<text x="119.50" y="141.86" font-size="6.6" text-anchor="middle" textLength="7.10" lengthAdjust="spacingAndGlyphs" style="stroke-width:0.2px">58</text>
<text x="134.30" y="141.86" font-size="6.6" text-anchor="middle" textLength="7.10" lengthAdjust="spacingAndGlyphs" style="stroke-width:0.2px">56</text>
<text x="149.10" y="141.86" font-size="6.6" text-anchor="middle" textLength="7.10" lengthAdjust="spacingAndGlyphs" style="stroke-width:0.2px">55</text>
<text x="163.90" y="141.86" font-size="6.6" text-anchor="middle" textLength="7.10" lengthAdjust="spacingAndGlyphs" style="stroke-width:0.2px">54</text>
<text x="178.70" y="141.86" font-size="6.6" text-anchor="middle" textLength="7.10" lengthAdjust="spacingAndGlyphs" style="stroke-width:0.2px">53</text>
<text x="193.50" y="141.86" font-size="6.6" text-anchor="middle" textLength="7.10" lengthAdjust="spacingAndGlyphs" style="stroke-width:0.2px">50</text>
<text x="208.30" y="141.86" font-size="6.6" text-anchor="middle" textLength="7.10" lengthAdjust="spacingAndGlyphs" style="stroke-width:0.2px">48</text>
<text x="223.10" y="141.86" font-size="6.6" text-anchor="middle" textLength="7.10" lengthAdjust="spacingAndGlyphs" style="stroke-width:0.2px">47</text>
<text x="238.00" y="141.86" font-size="6.6" text-anchor="middle" textLength="7.10" lengthAdjust="spacingAndGlyphs" style="stroke-width:0.2px">44</text>
<text x="60.30" y="155.66" font-size="6.6" text-anchor="middle" textLength="10.90" lengthAdjust="spacingAndGlyphs" style="stroke-width:0.2px">354</text>
<text x="75.10" y="155.66" font-size="6.6" text-anchor="middle" textLength="10.90" lengthAdjust="spacingAndGlyphs" style="stroke-width:0.2px">315</text>
<text x="89.90" y="155.66" font-size="6.6" text-anchor="middle" textLength="10.90" lengthAdjust="spacingAndGlyphs" style="stroke-width:0.2px">273</text>
<text x="104.70" y="155.66" font-size="6.6" text-anchor="middle" textLength="10.90" lengthAdjust="spacingAndGlyphs" style="stroke-width:0.2px">253</text>
<text x="119.50" y="155.66" font-size="6.6" text-anchor="middle" textLength="10.90" lengthAdjust="spacingAndGlyphs" style="stroke-width:0.2px">227</text>
<text x="134.30" y="155.66" font-size="6.6" text-anchor="middle" textLength="10.90" lengthAdjust="spacingAndGlyphs" style="stroke-width:0.2px">214</text>
<text x="149.10" y="155.66" font-size="6.6" text-anchor="middle" textLength="10.90" lengthAdjust="spacingAndGlyphs" style="stroke-width:0.2px">210</text>
<text x="163.90" y="155.66" font-size="6.6" text-anchor="middle" textLength="10.90" lengthAdjust="spacingAndGlyphs" style="stroke-width:0.2px">200</text>
<text x="178.70" y="155.66" font-size="6.6" text-anchor="middle" textLength="10.90" lengthAdjust="spacingAndGlyphs" style="stroke-width:0.2px">195</text>
<text x="193.50" y="155.66" font-size="6.6" text-anchor="middle" textLength="10.90" lengthAdjust="spacingAndGlyphs" style="stroke-width:0.2px">190</text>
<text x="208.30" y="155.66" font-size="6.6" text-anchor="middle" textLength="10.90" lengthAdjust="spacingAndGlyphs" style="stroke-width:0.2px">181</text>
<text x="223.10" y="155.66" font-size="6.6" text-anchor="middle" textLength="10.90" lengthAdjust="spacingAndGlyphs" style="stroke-width:0.2px">178</text>
<text x="238.00" y="155.66" font-size="6.6" text-anchor="middle" textLength="10.90" lengthAdjust="spacingAndGlyphs" style="stroke-width:0.2px">170</text>
</g>
<polyline points="322.9,32.2 330.3,35.0 336.5,37.2 343.8,40.8 347.7,43.7 354.6,45.4 365.0,47.5 368.4,51.0 380.6,52.3 389.2,53.5 405.0,55.5 464.2,57.8 472.7,59.7 498.0,60.4" fill="none" stroke="#b62a3e" stroke-width="1.35" stroke-dasharray="1.3,1.7"/>
<polyline points="322.9,31.3 329.1,31.6 332.2,33.2 336.5,34.4 341.4,35.6 345.7,36.6 350.0,37.2 371.0,37.8 371.6,39.7 377.1,40.6 378.8,41.4 381.4,42.3 383.1,43.7 405.0,44.5 416.6,44.5 417.7,45.1 425.1,46.0 444.1,46.2 446.2,47.7 451.5,48.7 464.2,49.4 465.3,50.9 481.1,51.5 483.2,51.9 486.4,52.3 487.5,53.6 495.9,53.6" fill="none" stroke="#66b8d2" stroke-width="1.2"/>
<g transform="translate(262.4,165.6)">
<text x="13.20" y="16.65" font-size="11.3" font-weight="bold" fill="#000" stroke-width="0.35" stroke="#000">E</text>
<line x1="83.1" y1="22.8" x2="88.6" y2="22.8" stroke="#7aa9c2" stroke-width="1.5"/>
<text x="91.90" y="25.18" font-size="7.2" textLength="62.00" lengthAdjust="spacingAndGlyphs">Abatacept+CNI/MTX</text>
<line x1="162.5" y1="22.8" x2="169.5" y2="22.8" stroke="#b62a3e" stroke-width="1.3" stroke-dasharray="1.3,1.6" opacity="0.75"/>
<text x="171.80" y="25.18" font-size="7.2" textLength="44.50" lengthAdjust="spacingAndGlyphs">CNI/MTX+ATG</text>
<text transform="translate(31.94,61.3) rotate(-90)" x="0" y="0" font-size="8.2" text-anchor="middle" textLength="73.6" lengthAdjust="spacingAndGlyphs" style="stroke-width:0.22px">Relapse-free survival (%)</text>
<line x1="51.2" y1="31.30" x2="53.9" y2="31.30" stroke="#231f20" stroke-width="0.8"/>
<text x="48.10" y="33.66" font-size="6.6" text-anchor="end" textLength="9.70" lengthAdjust="spacingAndGlyphs" style="stroke-width:0.12px">100</text>
<line x1="51.2" y1="37.28" x2="53.9" y2="37.28" stroke="#231f20" stroke-width="0.8"/>
<text x="48.10" y="39.64" font-size="6.6" text-anchor="end" textLength="6.60" lengthAdjust="spacingAndGlyphs" style="stroke-width:0.12px">90</text>
<line x1="51.2" y1="43.26" x2="53.9" y2="43.26" stroke="#231f20" stroke-width="0.8"/>
<text x="48.10" y="45.62" font-size="6.6" text-anchor="end" textLength="6.60" lengthAdjust="spacingAndGlyphs" style="stroke-width:0.12px">80</text>
<line x1="51.2" y1="49.24" x2="53.9" y2="49.24" stroke="#231f20" stroke-width="0.8"/>
<text x="48.10" y="51.60" font-size="6.6" text-anchor="end" textLength="6.60" lengthAdjust="spacingAndGlyphs" style="stroke-width:0.12px">70</text>
<line x1="51.2" y1="55.22" x2="53.9" y2="55.22" stroke="#231f20" stroke-width="0.8"/>
<text x="48.10" y="57.58" font-size="6.6" text-anchor="end" textLength="6.60" lengthAdjust="spacingAndGlyphs" style="stroke-width:0.12px">60</text>
<line x1="51.2" y1="61.20" x2="53.9" y2="61.20" stroke="#231f20" stroke-width="0.8"/>
<text x="48.10" y="63.56" font-size="6.6" text-anchor="end" textLength="6.60" lengthAdjust="spacingAndGlyphs" style="stroke-width:0.12px">50</text>
<line x1="51.2" y1="67.18" x2="53.9" y2="67.18" stroke="#231f20" stroke-width="0.8"/>
<text x="48.10" y="69.54" font-size="6.6" text-anchor="end" textLength="6.60" lengthAdjust="spacingAndGlyphs" style="stroke-width:0.12px">40</text>
<line x1="51.2" y1="73.16" x2="53.9" y2="73.16" stroke="#231f20" stroke-width="0.8"/>
<text x="48.10" y="75.52" font-size="6.6" text-anchor="end" textLength="6.60" lengthAdjust="spacingAndGlyphs" style="stroke-width:0.12px">30</text>
<line x1="51.2" y1="79.14" x2="53.9" y2="79.14" stroke="#231f20" stroke-width="0.8"/>
<text x="48.10" y="81.50" font-size="6.6" text-anchor="end" textLength="6.60" lengthAdjust="spacingAndGlyphs" style="stroke-width:0.12px">20</text>
<line x1="51.2" y1="85.12" x2="53.9" y2="85.12" stroke="#231f20" stroke-width="0.8"/>
<text x="48.10" y="87.48" font-size="6.6" text-anchor="end" textLength="6.60" lengthAdjust="spacingAndGlyphs" style="stroke-width:0.12px">10</text>
<line x1="51.2" y1="91.10" x2="53.9" y2="91.10" stroke="#231f20" stroke-width="0.8"/>
<text x="48.10" y="93.46" font-size="6.6" text-anchor="end" textLength="3.50" lengthAdjust="spacingAndGlyphs" style="stroke-width:0.12px">0</text>
<path d="M53.9,29.4 V93.4 H245.2" fill="none" stroke="#231f20" stroke-width="1.4"/>
<line x1="60.85" y1="93.4" x2="60.85" y2="96.30000000000001" stroke="#231f20" stroke-width="0.8"/>
<text x="60.70" y="104.96" font-size="6.3" text-anchor="middle" textLength="3.20" lengthAdjust="spacingAndGlyphs">0</text>
<line x1="75.46" y1="93.4" x2="75.46" y2="96.30000000000001" stroke="#231f20" stroke-width="0.8"/>
<text x="75.50" y="104.96" font-size="6.3" text-anchor="middle" textLength="6.80" lengthAdjust="spacingAndGlyphs">60</text>
<line x1="90.07" y1="93.4" x2="90.07" y2="96.30000000000001" stroke="#231f20" stroke-width="0.8"/>
<text x="90.30" y="104.96" font-size="6.3" text-anchor="middle" textLength="10.40" lengthAdjust="spacingAndGlyphs">120</text>
<line x1="104.68" y1="93.4" x2="104.68" y2="96.30000000000001" stroke="#231f20" stroke-width="0.8"/>
<text x="105.10" y="104.96" font-size="6.3" text-anchor="middle" textLength="10.40" lengthAdjust="spacingAndGlyphs">180</text>
<line x1="119.29" y1="93.4" x2="119.29" y2="96.30000000000001" stroke="#231f20" stroke-width="0.8"/>
<text x="119.90" y="104.96" font-size="6.3" text-anchor="middle" textLength="10.40" lengthAdjust="spacingAndGlyphs">240</text>
<line x1="133.90" y1="93.4" x2="133.90" y2="96.30000000000001" stroke="#231f20" stroke-width="0.8"/>
<text x="134.70" y="104.96" font-size="6.3" text-anchor="middle" textLength="10.40" lengthAdjust="spacingAndGlyphs">300</text>
<line x1="148.51" y1="93.4" x2="148.51" y2="96.30000000000001" stroke="#231f20" stroke-width="0.8"/>
<text x="149.50" y="104.96" font-size="6.3" text-anchor="middle" textLength="10.40" lengthAdjust="spacingAndGlyphs">360</text>
<line x1="163.12" y1="93.4" x2="163.12" y2="96.30000000000001" stroke="#231f20" stroke-width="0.8"/>
<text x="164.30" y="104.96" font-size="6.3" text-anchor="middle" textLength="10.40" lengthAdjust="spacingAndGlyphs">420</text>
<line x1="177.73" y1="93.4" x2="177.73" y2="96.30000000000001" stroke="#231f20" stroke-width="0.8"/>
<text x="179.10" y="104.96" font-size="6.3" text-anchor="middle" textLength="10.40" lengthAdjust="spacingAndGlyphs">480</text>
<line x1="192.34" y1="93.4" x2="192.34" y2="96.30000000000001" stroke="#231f20" stroke-width="0.8"/>
<text x="193.90" y="104.96" font-size="6.3" text-anchor="middle" textLength="10.40" lengthAdjust="spacingAndGlyphs">540</text>
<line x1="206.95" y1="93.4" x2="206.95" y2="96.30000000000001" stroke="#231f20" stroke-width="0.8"/>
<text x="208.70" y="104.96" font-size="6.3" text-anchor="middle" textLength="10.40" lengthAdjust="spacingAndGlyphs">600</text>
<line x1="221.56" y1="93.4" x2="221.56" y2="96.30000000000001" stroke="#231f20" stroke-width="0.8"/>
<text x="223.50" y="104.96" font-size="6.3" text-anchor="middle" textLength="10.40" lengthAdjust="spacingAndGlyphs">660</text>
<line x1="238.60" y1="93.4" x2="238.60" y2="96.30000000000001" stroke="#231f20" stroke-width="0.8"/>
<text x="238.30" y="104.96" font-size="6.3" text-anchor="middle" textLength="10.40" lengthAdjust="spacingAndGlyphs">730</text>
<text x="149.40" y="116.79" font-size="8.9" text-anchor="middle" textLength="82.80" lengthAdjust="spacingAndGlyphs" style="stroke-width:0.22px">Time since transplant (days)</text>
<text x="60" y="64.72" font-size="6.4" textLength="27.5" lengthAdjust="spacing"><tspan font-style="italic">P</tspan> = .1193</text>
<text x="60.00" y="78.09" font-size="6.4" textLength="37.50" lengthAdjust="spacing">HR (95% CI):</text>
<text x="60.00" y="85.49" font-size="6.4" textLength="128.70" lengthAdjust="spacing">0.39 (0.21-0.73) using treatment as covariate</text>
<text x="237.90" y="52.66" font-size="6.6" textLength="12.40" lengthAdjust="spacingAndGlyphs">66%</text>
<text x="237.90" y="60.06" font-size="6.6" textLength="12.40" lengthAdjust="spacingAndGlyphs">55%</text>
<text x="53.80" y="127.66" font-size="6.6" textLength="104.20" lengthAdjust="spacingAndGlyphs">Weighted number of patients at risk</text>
<text x="50.30" y="137.96" font-size="6.6" text-anchor="end" textLength="33.60" lengthAdjust="spacingAndGlyphs">Abatacept+</text>
<text x="50.60" y="145.56" font-size="6.6" text-anchor="end" textLength="26.60" lengthAdjust="spacingAndGlyphs">CNI/MTX</text>
<text x="50.60" y="155.66" font-size="6.6" text-anchor="end" textLength="44.30" lengthAdjust="spacingAndGlyphs">CNI/MTX+ATG</text>
<text x="60.30" y="141.86" font-size="6.6" text-anchor="middle" textLength="7.10" lengthAdjust="spacingAndGlyphs" style="stroke-width:0.2px">66</text>
<text x="75.10" y="141.86" font-size="6.6" text-anchor="middle" textLength="7.10" lengthAdjust="spacingAndGlyphs" style="stroke-width:0.2px">63</text>
<text x="89.90" y="141.86" font-size="6.6" text-anchor="middle" textLength="7.10" lengthAdjust="spacingAndGlyphs" style="stroke-width:0.2px">61</text>
<text x="104.70" y="141.86" font-size="6.6" text-anchor="middle" textLength="7.10" lengthAdjust="spacingAndGlyphs" style="stroke-width:0.2px">61</text>
<text x="119.50" y="141.86" font-size="6.6" text-anchor="middle" textLength="7.10" lengthAdjust="spacingAndGlyphs" style="stroke-width:0.2px">57</text>
<text x="134.30" y="141.86" font-size="6.6" text-anchor="middle" textLength="7.10" lengthAdjust="spacingAndGlyphs" style="stroke-width:0.2px">55</text>
<text x="149.10" y="141.86" font-size="6.6" text-anchor="middle" textLength="7.10" lengthAdjust="spacingAndGlyphs" style="stroke-width:0.2px">55</text>
<text x="163.90" y="141.86" font-size="6.6" text-anchor="middle" textLength="7.10" lengthAdjust="spacingAndGlyphs" style="stroke-width:0.2px">53</text>
<text x="178.70" y="141.86" font-size="6.6" text-anchor="middle" textLength="7.10" lengthAdjust="spacingAndGlyphs" style="stroke-width:0.2px">53</text>
<text x="193.50" y="141.86" font-size="6.6" text-anchor="middle" textLength="7.10" lengthAdjust="spacingAndGlyphs" style="stroke-width:0.2px">50</text>
<text x="208.30" y="141.86" font-size="6.6" text-anchor="middle" textLength="7.10" lengthAdjust="spacingAndGlyphs" style="stroke-width:0.2px">48</text>
<text x="223.10" y="141.86" font-size="6.6" text-anchor="middle" textLength="7.10" lengthAdjust="spacingAndGlyphs" style="stroke-width:0.2px">47</text>
<text x="238.00" y="141.86" font-size="6.6" text-anchor="middle" textLength="7.10" lengthAdjust="spacingAndGlyphs" style="stroke-width:0.2px">44</text>
<text x="60.30" y="155.66" font-size="6.6" text-anchor="middle" textLength="10.90" lengthAdjust="spacingAndGlyphs" style="stroke-width:0.2px">356</text>
<text x="75.10" y="155.66" font-size="6.6" text-anchor="middle" textLength="10.90" lengthAdjust="spacingAndGlyphs" style="stroke-width:0.2px">319</text>
<text x="89.90" y="155.66" font-size="6.6" text-anchor="middle" textLength="10.90" lengthAdjust="spacingAndGlyphs" style="stroke-width:0.2px">282</text>
<text x="104.70" y="155.66" font-size="6.6" text-anchor="middle" textLength="10.90" lengthAdjust="spacingAndGlyphs" style="stroke-width:0.2px">262</text>
<text x="119.50" y="155.66" font-size="6.6" text-anchor="middle" textLength="10.90" lengthAdjust="spacingAndGlyphs" style="stroke-width:0.2px">235</text>
<text x="134.30" y="155.66" font-size="6.6" text-anchor="middle" textLength="10.90" lengthAdjust="spacingAndGlyphs" style="stroke-width:0.2px">222</text>
<text x="149.10" y="155.66" font-size="6.6" text-anchor="middle" textLength="10.90" lengthAdjust="spacingAndGlyphs" style="stroke-width:0.2px">216</text>
<text x="163.90" y="155.66" font-size="6.6" text-anchor="middle" textLength="10.90" lengthAdjust="spacingAndGlyphs" style="stroke-width:0.2px">207</text>
<text x="178.70" y="155.66" font-size="6.6" text-anchor="middle" textLength="10.90" lengthAdjust="spacingAndGlyphs" style="stroke-width:0.2px">205</text>
<text x="193.50" y="155.66" font-size="6.6" text-anchor="middle" textLength="10.90" lengthAdjust="spacingAndGlyphs" style="stroke-width:0.2px">199</text>
<text x="208.30" y="155.66" font-size="6.6" text-anchor="middle" textLength="10.90" lengthAdjust="spacingAndGlyphs" style="stroke-width:0.2px">194</text>
<text x="223.10" y="155.66" font-size="6.6" text-anchor="middle" textLength="10.90" lengthAdjust="spacingAndGlyphs" style="stroke-width:0.2px">192</text>
<text x="238.00" y="155.66" font-size="6.6" text-anchor="middle" textLength="10.90" lengthAdjust="spacingAndGlyphs" style="stroke-width:0.2px">185</text>
</g>
<polyline points="323.5,197.5 330.3,200.0 336.5,202.5 343.2,206.2 347.7,209.0 365.0,212.5 371.9,214.6 378.8,216.8 392.7,218.5 405.0,220.3 498.0,224.3" fill="none" stroke="#b62a3e" stroke-width="1.35" stroke-dasharray="1.3,1.7"/>
<polyline points="323.5,197.2 329.1,197.5 331.5,198.5 336.5,199.4 342.6,200.3 345.1,201.5 371.0,202.1 371.6,203.8 378.8,205.2 382.3,206.8 397.9,207.3 399.6,208.0 405.0,207.9 416.6,208.0 418.7,208.9 425.1,209.5 444.1,209.7 446.2,210.6 451.5,211.6 464.2,212.3 465.3,213.3 480.0,214.0 483.2,214.8 486.4,215.4 487.5,216.9 495.9,216.9" fill="none" stroke="#66b8d2" stroke-width="1.2"/>
<g transform="translate(262.4,331.3)">
<text x="13.20" y="16.65" font-size="11.3" font-weight="bold" fill="#000" stroke-width="0.35" stroke="#000">F</text>
<line x1="97.0" y1="22.8" x2="102.8" y2="22.8" stroke="#7aa9c2" stroke-width="1.5"/>
<text x="106.00" y="25.18" font-size="7.2" textLength="61.50" lengthAdjust="spacingAndGlyphs">Abatacept+CNI/MTX</text>
<line x1="176.6" y1="22.8" x2="183.6" y2="22.8" stroke="#b62a3e" stroke-width="1.3" stroke-dasharray="1.3,1.6" opacity="0.75"/>
<text x="186.30" y="25.18" font-size="7.2" textLength="16.40" lengthAdjust="spacingAndGlyphs">PT-Cy</text>
<text transform="translate(31.94,61.3) rotate(-90)" x="0" y="0" font-size="8.2" text-anchor="middle" textLength="73.6" lengthAdjust="spacingAndGlyphs" style="stroke-width:0.22px">Relapse-free survival (%)</text>
<line x1="51.2" y1="31.30" x2="53.9" y2="31.30" stroke="#231f20" stroke-width="0.8"/>
<text x="48.10" y="33.66" font-size="6.6" text-anchor="end" textLength="9.70" lengthAdjust="spacingAndGlyphs" style="stroke-width:0.12px">100</text>
<line x1="51.2" y1="37.28" x2="53.9" y2="37.28" stroke="#231f20" stroke-width="0.8"/>
<text x="48.10" y="39.64" font-size="6.6" text-anchor="end" textLength="6.60" lengthAdjust="spacingAndGlyphs" style="stroke-width:0.12px">90</text>
<line x1="51.2" y1="43.26" x2="53.9" y2="43.26" stroke="#231f20" stroke-width="0.8"/>
<text x="48.10" y="45.62" font-size="6.6" text-anchor="end" textLength="6.60" lengthAdjust="spacingAndGlyphs" style="stroke-width:0.12px">80</text>
<line x1="51.2" y1="49.24" x2="53.9" y2="49.24" stroke="#231f20" stroke-width="0.8"/>
<text x="48.10" y="51.60" font-size="6.6" text-anchor="end" textLength="6.60" lengthAdjust="spacingAndGlyphs" style="stroke-width:0.12px">70</text>
<line x1="51.2" y1="55.22" x2="53.9" y2="55.22" stroke="#231f20" stroke-width="0.8"/>
<text x="48.10" y="57.58" font-size="6.6" text-anchor="end" textLength="6.60" lengthAdjust="spacingAndGlyphs" style="stroke-width:0.12px">60</text>
<line x1="51.2" y1="61.20" x2="53.9" y2="61.20" stroke="#231f20" stroke-width="0.8"/>
<text x="48.10" y="63.56" font-size="6.6" text-anchor="end" textLength="6.60" lengthAdjust="spacingAndGlyphs" style="stroke-width:0.12px">50</text>
<line x1="51.2" y1="67.18" x2="53.9" y2="67.18" stroke="#231f20" stroke-width="0.8"/>
<text x="48.10" y="69.54" font-size="6.6" text-anchor="end" textLength="6.60" lengthAdjust="spacingAndGlyphs" style="stroke-width:0.12px">40</text>
<line x1="51.2" y1="73.16" x2="53.9" y2="73.16" stroke="#231f20" stroke-width="0.8"/>
<text x="48.10" y="75.52" font-size="6.6" text-anchor="end" textLength="6.60" lengthAdjust="spacingAndGlyphs" style="stroke-width:0.12px">30</text>
<line x1="51.2" y1="79.14" x2="53.9" y2="79.14" stroke="#231f20" stroke-width="0.8"/>
<text x="48.10" y="81.50" font-size="6.6" text-anchor="end" textLength="6.60" lengthAdjust="spacingAndGlyphs" style="stroke-width:0.12px">20</text>
<line x1="51.2" y1="85.12" x2="53.9" y2="85.12" stroke="#231f20" stroke-width="0.8"/>
<text x="48.10" y="87.48" font-size="6.6" text-anchor="end" textLength="6.60" lengthAdjust="spacingAndGlyphs" style="stroke-width:0.12px">10</text>
<line x1="51.2" y1="91.10" x2="53.9" y2="91.10" stroke="#231f20" stroke-width="0.8"/>
<text x="48.10" y="93.46" font-size="6.6" text-anchor="end" textLength="3.50" lengthAdjust="spacingAndGlyphs" style="stroke-width:0.12px">0</text>
<path d="M53.9,29.4 V93.4 H245.2" fill="none" stroke="#231f20" stroke-width="1.4"/>
<line x1="60.85" y1="93.4" x2="60.85" y2="96.30000000000001" stroke="#231f20" stroke-width="0.8"/>
<text x="60.70" y="104.96" font-size="6.3" text-anchor="middle" textLength="3.20" lengthAdjust="spacingAndGlyphs">0</text>
<line x1="75.46" y1="93.4" x2="75.46" y2="96.30000000000001" stroke="#231f20" stroke-width="0.8"/>
<text x="75.50" y="104.96" font-size="6.3" text-anchor="middle" textLength="6.80" lengthAdjust="spacingAndGlyphs">60</text>
<line x1="90.07" y1="93.4" x2="90.07" y2="96.30000000000001" stroke="#231f20" stroke-width="0.8"/>
<text x="90.30" y="104.96" font-size="6.3" text-anchor="middle" textLength="10.40" lengthAdjust="spacingAndGlyphs">120</text>
<line x1="104.68" y1="93.4" x2="104.68" y2="96.30000000000001" stroke="#231f20" stroke-width="0.8"/>
<text x="105.10" y="104.96" font-size="6.3" text-anchor="middle" textLength="10.40" lengthAdjust="spacingAndGlyphs">180</text>
<line x1="119.29" y1="93.4" x2="119.29" y2="96.30000000000001" stroke="#231f20" stroke-width="0.8"/>
<text x="119.90" y="104.96" font-size="6.3" text-anchor="middle" textLength="10.40" lengthAdjust="spacingAndGlyphs">240</text>
<line x1="133.90" y1="93.4" x2="133.90" y2="96.30000000000001" stroke="#231f20" stroke-width="0.8"/>
<text x="134.70" y="104.96" font-size="6.3" text-anchor="middle" textLength="10.40" lengthAdjust="spacingAndGlyphs">300</text>
<line x1="148.51" y1="93.4" x2="148.51" y2="96.30000000000001" stroke="#231f20" stroke-width="0.8"/>
<text x="149.50" y="104.96" font-size="6.3" text-anchor="middle" textLength="10.40" lengthAdjust="spacingAndGlyphs">360</text>
<line x1="163.12" y1="93.4" x2="163.12" y2="96.30000000000001" stroke="#231f20" stroke-width="0.8"/>
<text x="164.30" y="104.96" font-size="6.3" text-anchor="middle" textLength="10.40" lengthAdjust="spacingAndGlyphs">420</text>
<line x1="177.73" y1="93.4" x2="177.73" y2="96.30000000000001" stroke="#231f20" stroke-width="0.8"/>
<text x="179.10" y="104.96" font-size="6.3" text-anchor="middle" textLength="10.40" lengthAdjust="spacingAndGlyphs">480</text>
<line x1="192.34" y1="93.4" x2="192.34" y2="96.30000000000001" stroke="#231f20" stroke-width="0.8"/>
<text x="193.90" y="104.96" font-size="6.3" text-anchor="middle" textLength="10.40" lengthAdjust="spacingAndGlyphs">540</text>
<line x1="206.95" y1="93.4" x2="206.95" y2="96.30000000000001" stroke="#231f20" stroke-width="0.8"/>
<text x="208.70" y="104.96" font-size="6.3" text-anchor="middle" textLength="10.40" lengthAdjust="spacingAndGlyphs">600</text>
<line x1="221.56" y1="93.4" x2="221.56" y2="96.30000000000001" stroke="#231f20" stroke-width="0.8"/>
<text x="223.50" y="104.96" font-size="6.3" text-anchor="middle" textLength="10.40" lengthAdjust="spacingAndGlyphs">660</text>
<line x1="238.60" y1="93.4" x2="238.60" y2="96.30000000000001" stroke="#231f20" stroke-width="0.8"/>
<text x="238.30" y="104.96" font-size="6.3" text-anchor="middle" textLength="10.40" lengthAdjust="spacingAndGlyphs">730</text>
<text x="149.40" y="116.79" font-size="8.9" text-anchor="middle" textLength="82.80" lengthAdjust="spacingAndGlyphs" style="stroke-width:0.22px">Time since transplant (days)</text>
<text x="60" y="64.72" font-size="6.4" textLength="27.5" lengthAdjust="spacing"><tspan font-style="italic">P</tspan> = .2356</text>
<text x="60.00" y="78.09" font-size="6.4" textLength="37.50" lengthAdjust="spacing">HR (95% CI):</text>
<text x="60.00" y="85.49" font-size="6.4" textLength="128.70" lengthAdjust="spacing">0.54 (0.26-1.11) using treatment as covariate</text>
<text x="237.90" y="52.06" font-size="6.6" textLength="12.40" lengthAdjust="spacingAndGlyphs">68%</text>
<text x="237.90" y="58.16" font-size="6.6" textLength="12.40" lengthAdjust="spacingAndGlyphs">57%</text>
<text x="53.80" y="127.66" font-size="6.6" textLength="104.20" lengthAdjust="spacingAndGlyphs">Weighted number of patients at risk</text>
<text x="50.30" y="137.96" font-size="6.6" text-anchor="end" textLength="33.60" lengthAdjust="spacingAndGlyphs">Abatacept+</text>
<text x="50.60" y="145.56" font-size="6.6" text-anchor="end" textLength="26.60" lengthAdjust="spacingAndGlyphs">CNI/MTX</text>
<text x="50.60" y="155.66" font-size="6.6" text-anchor="end" textLength="16.80" lengthAdjust="spacingAndGlyphs">PT-Cy</text>
<text x="60.30" y="141.86" font-size="6.6" text-anchor="middle" textLength="7.10" lengthAdjust="spacingAndGlyphs" style="stroke-width:0.2px">76</text>
<text x="75.10" y="141.86" font-size="6.6" text-anchor="middle" textLength="7.10" lengthAdjust="spacingAndGlyphs" style="stroke-width:0.2px">71</text>
<text x="89.90" y="141.86" font-size="6.6" text-anchor="middle" textLength="7.10" lengthAdjust="spacingAndGlyphs" style="stroke-width:0.2px">69</text>
<text x="104.70" y="141.86" font-size="6.6" text-anchor="middle" textLength="7.10" lengthAdjust="spacingAndGlyphs" style="stroke-width:0.2px">68</text>
<text x="119.50" y="141.86" font-size="6.6" text-anchor="middle" textLength="7.10" lengthAdjust="spacingAndGlyphs" style="stroke-width:0.2px">62</text>
<text x="134.30" y="141.86" font-size="6.6" text-anchor="middle" textLength="7.10" lengthAdjust="spacingAndGlyphs" style="stroke-width:0.2px">61</text>
<text x="149.10" y="141.86" font-size="6.6" text-anchor="middle" textLength="7.10" lengthAdjust="spacingAndGlyphs" style="stroke-width:0.2px">61</text>
<text x="163.90" y="141.86" font-size="6.6" text-anchor="middle" textLength="7.10" lengthAdjust="spacingAndGlyphs" style="stroke-width:0.2px">60</text>
<text x="178.70" y="141.86" font-size="6.6" text-anchor="middle" textLength="7.10" lengthAdjust="spacingAndGlyphs" style="stroke-width:0.2px">59</text>
<text x="193.50" y="141.86" font-size="6.6" text-anchor="middle" textLength="7.10" lengthAdjust="spacingAndGlyphs" style="stroke-width:0.2px">58</text>
<text x="208.30" y="141.86" font-size="6.6" text-anchor="middle" textLength="7.10" lengthAdjust="spacingAndGlyphs" style="stroke-width:0.2px">56</text>
<text x="223.10" y="141.86" font-size="6.6" text-anchor="middle" textLength="7.10" lengthAdjust="spacingAndGlyphs" style="stroke-width:0.2px">53</text>
<text x="238.00" y="141.86" font-size="6.6" text-anchor="middle" textLength="7.10" lengthAdjust="spacingAndGlyphs" style="stroke-width:0.2px">52</text>
<text x="60.30" y="155.66" font-size="6.6" text-anchor="middle" textLength="10.90" lengthAdjust="spacingAndGlyphs" style="stroke-width:0.2px">352</text>
<text x="75.10" y="155.66" font-size="6.6" text-anchor="middle" textLength="10.90" lengthAdjust="spacingAndGlyphs" style="stroke-width:0.2px">331</text>
<text x="89.90" y="155.66" font-size="6.6" text-anchor="middle" textLength="10.90" lengthAdjust="spacingAndGlyphs" style="stroke-width:0.2px">296</text>
<text x="104.70" y="155.66" font-size="6.6" text-anchor="middle" textLength="10.90" lengthAdjust="spacingAndGlyphs" style="stroke-width:0.2px">276</text>
<text x="119.50" y="155.66" font-size="6.6" text-anchor="middle" textLength="10.90" lengthAdjust="spacingAndGlyphs" style="stroke-width:0.2px">254</text>
<text x="134.30" y="155.66" font-size="6.6" text-anchor="middle" textLength="10.90" lengthAdjust="spacingAndGlyphs" style="stroke-width:0.2px">239</text>
<text x="149.10" y="155.66" font-size="6.6" text-anchor="middle" textLength="10.90" lengthAdjust="spacingAndGlyphs" style="stroke-width:0.2px">227</text>
<text x="163.90" y="155.66" font-size="6.6" text-anchor="middle" textLength="10.90" lengthAdjust="spacingAndGlyphs" style="stroke-width:0.2px">220</text>
<text x="178.70" y="155.66" font-size="6.6" text-anchor="middle" textLength="10.90" lengthAdjust="spacingAndGlyphs" style="stroke-width:0.2px">218</text>
<text x="193.50" y="155.66" font-size="6.6" text-anchor="middle" textLength="10.90" lengthAdjust="spacingAndGlyphs" style="stroke-width:0.2px">213</text>
<text x="208.30" y="155.66" font-size="6.6" text-anchor="middle" textLength="10.90" lengthAdjust="spacingAndGlyphs" style="stroke-width:0.2px">210</text>
<text x="223.10" y="155.66" font-size="6.6" text-anchor="middle" textLength="10.90" lengthAdjust="spacingAndGlyphs" style="stroke-width:0.2px">196</text>
<text x="238.00" y="155.66" font-size="6.6" text-anchor="middle" textLength="10.90" lengthAdjust="spacingAndGlyphs" style="stroke-width:0.2px">192</text>
</g>
<polyline points="323.2,363.2 329.1,363.4 330.9,365.1 336.5,366.2 342.6,367.6 348.8,370.5 354.6,372.3 368.4,377.1 389.2,381.0 405.0,383.6 466.3,385.5 476.9,387.2 490.6,387.8" fill="none" stroke="#b62a3e" stroke-width="1.35" stroke-dasharray="1.3,1.7"/>
<polyline points="323.2,363.2 329.1,363.2 330.9,365.1 336.5,366.0 342.6,367.2 346.0,368.0 371.0,368.5 371.6,372.0 378.8,372.6 382.3,374.0 405.0,374.9 426.1,376.0 451.5,377.3 481.1,378.7 482.2,380.9 488.5,381.9 495.9,381.9" fill="none" stroke="#66b8d2" stroke-width="1.2"/>
<rect x="0" y="1" width="520" height="1" fill="#d8d8d8"/>
<rect x="1" y="0" width="1" height="495" fill="#d8d8d8"/>
<rect x="518" y="0" width="1" height="495" fill="#c0c0c0"/>
<rect x="0" y="493" width="520" height="1" fill="#a0a0a0"/>
<rect x="0" y="0" width="520" height="1" fill="#5a5a5a"/>
<rect x="0" y="0" width="1" height="495" fill="#666"/>
<rect x="519" y="0" width="1" height="495" fill="#333"/>
<rect x="0" y="494" width="520" height="1" fill="#333"/>
</svg>
</body></html>
